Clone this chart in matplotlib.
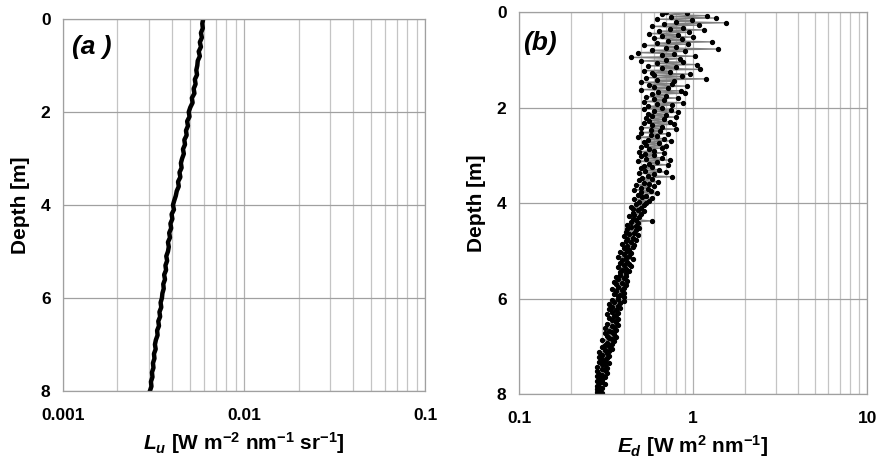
import numpy as np
import matplotlib
matplotlib.use("Agg")
import matplotlib.pyplot as plt

plt.rcParams["font.family"] = ["Liberation Sans", "DejaVu Sans"]
plt.rcParams["font.weight"] = "bold"
plt.rcParams["axes.labelweight"] = "bold"
plt.rcParams["mathtext.fontset"] = "custom"
plt.rcParams["mathtext.rm"] = "Liberation Sans:bold"
plt.rcParams["mathtext.it"] = "Liberation Sans:bold:italic"
plt.rcParams["mathtext.bf"] = "Liberation Sans:bold"

# panel (a): upwelling radiance, one value every 0.1 m from 0 to 8 m
lu = [0.00595, 0.00588, 0.00592, 0.00578, 0.00585, 0.00570, 0.00578, 0.00562, 0.00570, 0.00555,
      0.00552, 0.00545, 0.00550, 0.00535, 0.00540, 0.00527, 0.00532, 0.00515, 0.00520, 0.00505,
      0.00495, 0.00500, 0.00485, 0.00490, 0.00478, 0.00482, 0.00468, 0.00472, 0.00460, 0.00465,
      0.00455, 0.00448, 0.00452, 0.00440, 0.00445, 0.00432, 0.00436, 0.00425, 0.00420, 0.00412,
      0.00405, 0.00410, 0.00398, 0.00402, 0.00392, 0.00396, 0.00386, 0.00390, 0.00380, 0.00384,
      0.00380, 0.00372, 0.00376, 0.00368, 0.00371, 0.00362, 0.00366, 0.00358, 0.00360, 0.00354,
      0.00352, 0.00346, 0.00349, 0.00341, 0.00344, 0.00336, 0.00339, 0.00331, 0.00333, 0.00326,
      0.00322, 0.00325, 0.00318, 0.00320, 0.00314, 0.00316, 0.00310, 0.00312, 0.00306, 0.00308,
      0.00302]
depth_lu = np.linspace(0, 8, len(lu))

# panel (b): downwelling irradiance, one value every 0.025 m from 0 to 8 m
ed = [0.70, 0.92, 0.66, 1.20, 0.75, 1.35, 0.62, 0.98, 0.80, 1.55, 0.68, 1.08, 0.58, 0.88, 0.74, 1.15, 0.64, 0.95, 0.56, 0.82,
      0.66, 1.00, 0.60, 0.86, 0.72, 1.28, 0.62, 0.94, 0.52, 0.80, 0.70, 1.40, 0.58, 0.90, 0.48, 0.78, 0.66, 1.02, 0.44, 0.84,
      0.70, 0.50, 0.88, 0.62, 1.05, 0.55, 0.80, 0.66, 1.10, 0.52, 0.74, 0.58, 0.96, 0.60, 0.86, 0.54, 1.18, 0.62, 0.78, 0.50,
      0.76, 0.56, 0.92, 0.60, 0.72, 0.50, 0.85, 0.63, 0.90, 0.58, 0.70, 0.54, 0.82, 0.60, 0.68, 0.52, 0.88, 0.62, 0.76, 0.55,
      0.66, 0.52, 0.75, 0.60, 0.82, 0.55, 0.70, 0.58, 0.80, 0.54, 0.68, 0.56, 0.74, 0.52, 0.78, 0.58, 0.66, 0.50, 0.80, 0.57,
      0.65, 0.50, 0.72, 0.57, 0.62, 0.48, 0.68, 0.55, 0.75, 0.52, 0.64, 0.54, 0.70, 0.50, 0.66, 0.56, 0.60, 0.49, 0.68, 0.53,
      0.60, 0.50, 0.66, 0.54, 0.74, 0.48, 0.62, 0.56, 0.72, 0.52, 0.58, 0.50, 0.64, 0.53, 0.70, 0.49, 0.60, 0.55, 0.76, 0.51,
      0.58, 0.49, 0.63, 0.52, 0.56, 0.47, 0.60, 0.50, 0.55, 0.46, 0.57, 0.50, 0.62, 0.48, 0.54, 0.51, 0.58, 0.46, 0.56, 0.49,
      0.54, 0.47, 0.52, 0.44, 0.50, 0.45, 0.48, 0.52, 0.45, 0.50, 0.46, 0.43, 0.49, 0.45, 0.47, 0.58, 0.44, 0.48, 0.42, 0.47,
      0.44, 0.49, 0.42, 0.47, 0.41, 0.46, 0.43, 0.48, 0.40, 0.45, 0.42, 0.47, 0.41, 0.44, 0.39, 0.46, 0.42, 0.45, 0.40, 0.43,
      0.42, 0.38, 0.44, 0.40, 0.43, 0.37, 0.41, 0.45, 0.39, 0.42, 0.38, 0.43, 0.40, 0.44, 0.37, 0.41, 0.39, 0.43, 0.38, 0.41,
      0.38, 0.41, 0.36, 0.40, 0.37, 0.42, 0.35, 0.39, 0.36, 0.41, 0.37, 0.40, 0.34, 0.39, 0.36, 0.40, 0.35, 0.38, 0.37, 0.40,
      0.37, 0.34, 0.40, 0.35, 0.38, 0.33, 0.37, 0.34, 0.38, 0.33, 0.36, 0.34, 0.37, 0.32, 0.36, 0.35, 0.33, 0.37, 0.34, 0.36,
      0.36, 0.32, 0.37, 0.34, 0.35, 0.31, 0.36, 0.33, 0.34, 0.31, 0.35, 0.32, 0.36, 0.33, 0.34, 0.30, 0.35, 0.32, 0.34, 0.31,
      0.33, 0.30, 0.34, 0.31, 0.33, 0.29, 0.32, 0.30, 0.33, 0.29, 0.32, 0.30, 0.31, 0.29, 0.33, 0.30, 0.31, 0.28, 0.32, 0.30,
      0.31, 0.28, 0.32, 0.29, 0.30, 0.28, 0.31, 0.29, 0.30, 0.28, 0.30, 0.29, 0.31, 0.28, 0.29, 0.30, 0.28, 0.29, 0.28, 0.30,
      0.28]
depth_ed = np.linspace(0, 8, len(ed))

depth_ticks = [0, 2, 4, 6, 8]

fig = plt.figure(figsize=(8.8, 4.63), dpi=100)
ax1 = fig.add_axes([0.0716, 0.1555, 0.4114, 0.8035])
ax2 = fig.add_axes([0.5898, 0.149, 0.3955, 0.825])


def style(ax, xlim, xticks, xticklabels):
    ax.set_xscale("log")
    ax.set_xlim(*xlim)
    ax.set_ylim(8, 0)
    ax.set_yticks(depth_ticks)
    ax.set_xticks(xticks)
    ax.set_xticklabels(xticklabels)
    ax.grid(True, which="minor", axis="x", color="#c4c4c4", lw=0.9)
    ax.grid(True, which="major", axis="x", color="#b0b0b0", lw=0.9)
    ax.grid(True, which="major", axis="y", color="#a0a0a0", lw=0.9)
    ax.set_axisbelow(True)
    for s in ax.spines.values():
        s.set_color("#a0a0a0")
        s.set_linewidth(0.9)
    ax.tick_params(which="both", length=0, labelsize=12.5)
    ax.tick_params(axis="x", pad=12)
    ax.tick_params(axis="y", pad=9)
    ax.set_ylabel("Depth [m]", fontsize=15, labelpad=8)


ax1.plot(lu, depth_lu, color="black", lw=3.2)
style(ax1, (0.001, 0.1), [0.001, 0.01, 0.1], ["0.001", "0.01", "0.1"])
ax1.set_xlabel(r"$L_u$ [W m$^{-2}$ nm$^{-1}$ sr$^{-1}$]", fontsize=15, labelpad=5)
ax1.text(0.025, 0.925, "(a )", transform=ax1.transAxes, fontsize=19,
         fontweight="bold", style="italic", va="center")

ax2.plot(ed, depth_ed, color="#808080", lw=0.9, marker="o", ms=2.8,
         mfc="black", mec="black")
style(ax2, (0.1, 10), [0.1, 1, 10], ["0.1", "1", "10"])
ax2.set_xlabel(r"$E_d$ [W m$^{2}$ nm$^{-1}$]", fontsize=15, labelpad=5)
ax2.text(0.012, 0.92, "(b)", transform=ax2.transAxes, fontsize=19,
         fontweight="bold", style="italic", va="center")

fig.savefig("out.png", dpi=100)
